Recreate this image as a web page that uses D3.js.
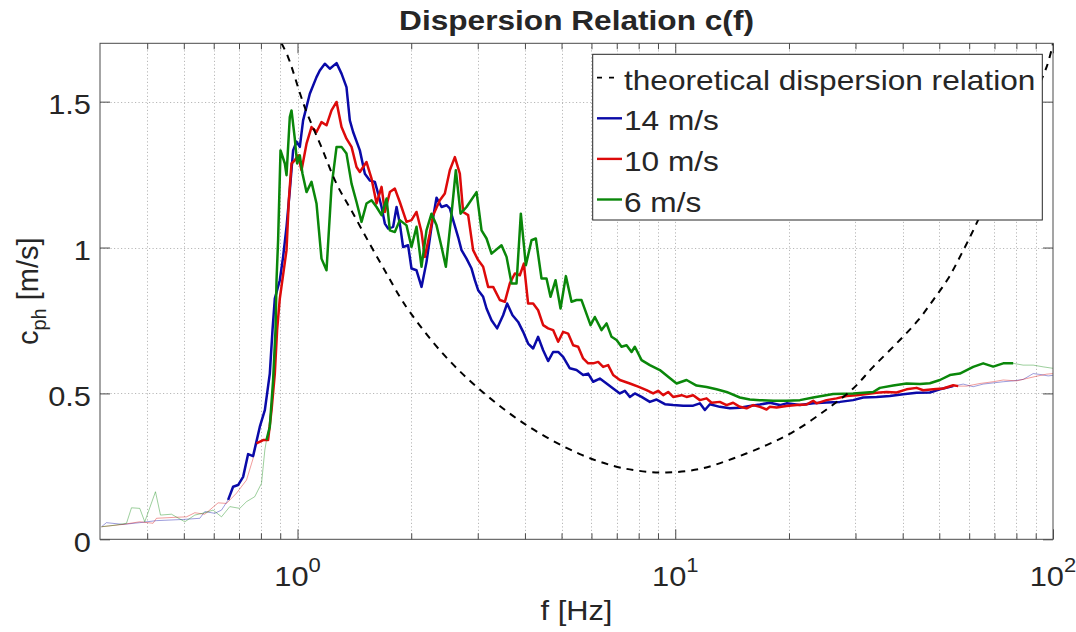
<!DOCTYPE html>
<html><head><meta charset="utf-8">
<script src="https://cdn.jsdelivr.net/npm/d3@7/dist/d3.min.js"></script>
<style>
body{margin:0;background:#fff;}
svg text{font-family:"Liberation Sans",Arial,Helvetica,sans-serif;fill:#262626;}
</style></head><body>
<svg id="chart" width="1076" height="632"></svg>
<script>
// ---------------- data ----------------
const titleText = "Dispersion Relation c(f)";
const xDomain = [0.3, 100];
const yDomain = [0, 1.7];
const xMajorTicks = [1, 10, 100];
const xMajorExp = ["0", "1", "2"];
const xMinorTicks = [0.4,0.5,0.6,0.7,0.8,0.9,2,3,4,5,6,7,8,9,20,30,40,50,60,70,80,90];
const yTicks = [0, 0.5, 1, 1.5];
const yTickLabels = ["0", "0.5", "1", "1.5"];
const seriesNames = ["theoretical dispersion relation", "14 m/s", "10 m/s", "6 m/s"];

const fTheory = [0.907,0.944,1.045,1.157,1.268,1.390,1.554,1.720,1.866,1.983,2.381,2.978,4.04,5.59,6.85,7.98,9.48,11.62,14.23,17.45,20.52,25.15,29.58,33.42,39.32,43.97,48.17,52.79,57.28,62.13,72.35,84.26,96.2,100];
const cTheory = [1.70,1.653,1.481,1.344,1.219,1.126,1.012,0.911,0.831,0.779,0.648,0.523,0.391,0.292,0.252,0.235,0.229,0.241,0.277,0.323,0.368,0.445,0.517,0.591,0.683,0.751,0.820,0.894,0.979,1.071,1.258,1.453,1.619,1.70];

const f14 = [0.3028,0.3120,0.3453,0.3823,0.4233,0.4979,0.5512,0.5683,0.6040,0.6292,0.6551,0.6753,0.6961,0.7178,0.7400,0.7628,0.7948,0.8194,0.8446,0.8586,0.8708,0.8977,0.9159,0.9352,0.9541,0.9736,0.9940,1.0141,1.0347,1.0779,1.1227,1.1455,1.1812,1.2177,1.2686,1.3077,1.3478,1.3756,1.4035,1.4622,1.5076,1.5541,1.6024,1.6349,1.6692,1.7030,1.7378,1.7914,1.8289,1.8656,1.9034,1.9622,2.0033,2.0655,2.1294,2.1950,2.2632,2.3335,2.4061,2.4803,2.5305,2.5823,2.6620,2.7178,2.8017,2.8889,2.9474,3.0077,3.1004,3.1652,3.2630,3.3768,3.5019,3.5884,3.7085,3.8379,3.9563,4.0783,4.2052,4.3351,4.4697,4.6075,4.7497,4.8978,5.0488,5.2590,5.4790,5.7041,5.8804,6.0618,6.3154,6.5784,6.8489,7.1338,7.3556,7.5826,7.8163,8.1431,8.5647,8.9227,9.3890,9.8719,10.493,11.154,11.619,11.979,12.350,13.125,13.949,14.825,15.755,16.749,17.803,18.918,19.708,21.379,23.181,25.154,27.280,29.580,31.446,34.119,37.003,40.127,43.543,47.218,50.187,54.425,57.842,61.475,65.345,69.456,73.824,78.457,83.392,88.630,92.323,97.118,100];
const c14 = [0.043,0.057,0.051,0.057,0.064,0.068,0.072,0.095,0.089,0.100,0.135,0.180,0.186,0.214,0.292,0.285,0.386,0.443,0.568,0.717,0.825,0.888,0.968,1.071,1.196,1.333,1.363,1.345,1.436,1.527,1.584,1.607,1.630,1.613,1.632,1.596,1.550,1.436,1.396,1.333,1.253,1.230,1.225,1.185,1.139,1.082,1.065,1.071,1.139,1.082,1.002,1.008,0.928,0.922,0.865,0.950,1.071,1.171,1.139,1.145,1.134,1.094,1.036,0.991,0.962,0.928,0.888,0.854,0.831,0.791,0.751,0.723,0.768,0.808,0.768,0.745,0.711,0.671,0.654,0.694,0.648,0.611,0.642,0.642,0.625,0.586,0.580,0.563,0.568,0.540,0.551,0.534,0.517,0.500,0.509,0.488,0.500,0.488,0.471,0.479,0.463,0.460,0.458,0.458,0.466,0.443,0.463,0.454,0.449,0.451,0.457,0.462,0.468,0.460,0.466,0.460,0.466,0.469,0.471,0.477,0.486,0.488,0.491,0.497,0.502,0.503,0.514,0.525,0.532,0.523,0.532,0.536,0.540,0.543,0.548,0.568,0.565,0.560,0.562];
const valid14 = [0.655, 57.84];

const f10 = [0.3028,0.3453,0.3823,0.4146,0.4233,0.4684,0.5084,0.5347,0.5683,0.6163,0.6486,0.6893,0.7328,0.7628,0.7786,0.8108,0.8358,0.8536,0.8708,0.8830,0.8977,0.9352,0.9484,0.9641,0.9836,1.0037,1.0247,1.0564,1.0890,1.1227,1.1574,1.1933,1.2303,1.2686,1.3077,1.3478,1.3900,1.4329,1.4622,1.5228,1.5703,1.6190,1.6692,1.7030,1.7559,1.8100,1.8656,1.9433,2.0033,2.0655,2.1294,2.1727,2.2398,2.2856,2.3813,2.4547,2.5305,2.6092,2.6899,2.7443,2.8295,2.9170,3.0077,3.1004,3.1960,3.2955,3.4324,3.5391,3.6484,3.7610,3.8779,3.9737,4.0783,4.2052,4.3351,4.4697,4.6075,4.7497,4.8978,5.0488,5.2048,5.3665,5.5331,5.7041,5.8804,6.0618,6.2503,6.4431,6.6418,6.8489,7.1338,7.5826,7.9776,8.3946,8.7392,9.0093,9.2897,9.5766,9.8719,10.392,10.713,11.154,11.619,12.104,12.479,13.125,13.670,14.232,14.825,15.443,16.079,16.749,17.446,17.803,18.544,19.708,20.955,22.266,23.181,23.662,25.154,26.730,28.415,30.200,32.107,34.119,36.262,38.541,40.964,43.543,45.331,48.173,51.203,54.425,56.105,59.055,64.048,69.456,73.824,80.101,85.139,90.483,96.161,100];
const c10 = [0.043,0.051,0.060,0.055,0.072,0.075,0.077,0.091,0.086,0.125,0.123,0.158,0.203,0.277,0.329,0.340,0.340,0.443,0.568,0.717,0.825,0.991,1.162,1.288,1.299,1.316,1.265,1.356,1.413,1.396,1.430,1.419,1.470,1.499,1.413,1.373,1.345,1.276,1.259,1.293,1.236,1.151,1.208,1.122,1.190,1.202,1.156,1.088,1.094,1.122,1.053,0.968,1.048,1.111,1.162,1.185,1.265,1.310,1.253,1.122,1.111,0.991,0.957,0.934,0.865,0.865,0.820,0.814,0.877,0.911,0.905,0.945,0.808,0.808,0.785,0.734,0.723,0.717,0.677,0.711,0.705,0.665,0.660,0.620,0.603,0.603,0.608,0.591,0.597,0.563,0.546,0.534,0.523,0.511,0.500,0.509,0.494,0.505,0.488,0.494,0.488,0.494,0.477,0.483,0.468,0.471,0.460,0.468,0.454,0.449,0.460,0.454,0.445,0.454,0.452,0.457,0.460,0.462,0.475,0.466,0.477,0.483,0.491,0.494,0.498,0.502,0.505,0.503,0.514,0.519,0.511,0.514,0.517,0.528,0.525,0.525,0.534,0.540,0.546,0.543,0.551,0.559,0.566,0.568];
const valid10 = [0.7786, 56.11];

const f6 = [0.3028,0.3317,0.3526,0.3635,0.3823,0.3941,0.4207,0.4338,0.4638,0.5031,0.5347,0.5683,0.5977,0.6292,0.6619,0.7033,0.7328,0.7706,0.8030,0.8194,0.8277,0.8446,0.8618,0.8745,0.8799,0.8884,0.9016,0.9256,0.9352,0.9541,0.9641,0.9836,0.9976,1.0141,1.0309,1.0564,1.0890,1.1227,1.1574,1.1933,1.2303,1.2686,1.3077,1.3478,1.3900,1.4329,1.4774,1.5228,1.5703,1.6190,1.6692,1.7207,1.7559,1.8100,1.8656,1.9433,2.0033,2.0655,2.1294,2.1950,2.2632,2.3335,2.4061,2.4700,2.5571,2.6249,2.7015,2.8017,2.9784,3.0704,3.1652,3.2630,3.4677,3.5760,3.6864,3.8003,3.9011,4.0222,4.1639,4.2747,4.4258,4.5621,4.6749,4.8205,4.9693,5.1334,5.3136,5.4790,5.6480,5.9680,6.1252,6.3811,6.5784,6.7814,6.9920,7.2080,7.4315,7.6614,7.8163,8.1431,8.5647,9.1033,9.5766,10.079,10.713,11.386,12.104,12.862,13.670,14.825,15.755,16.749,18.161,19.708,21.379,23.181,26.182,29.580,33.419,34.811,37.757,40.964,44.431,47.218,50.187,53.333,56.676,61.475,65.345,69.456,73.824,78.457,83.392,88.630,94.213,100];
const c6 = [0.043,0.049,0.055,0.108,0.106,0.060,0.163,0.083,0.086,0.060,0.083,0.091,0.100,0.077,0.112,0.106,0.129,0.146,0.192,0.306,0.340,0.386,0.546,0.717,0.888,1.025,1.333,1.288,1.248,1.447,1.470,1.373,1.288,1.316,1.253,1.190,1.225,1.151,0.962,0.922,1.208,1.345,1.345,1.322,1.219,1.156,1.088,1.151,1.162,1.139,1.111,1.168,1.059,1.053,1.094,1.076,1.002,1.071,0.934,1.059,1.116,1.076,1.002,0.934,1.116,1.265,1.116,1.139,1.190,1.059,1.031,0.979,1.008,0.968,0.877,0.877,1.116,0.939,1.025,1.031,0.894,0.894,0.831,0.888,0.791,0.902,0.814,0.820,0.820,0.734,0.762,0.717,0.740,0.694,0.683,0.660,0.665,0.642,0.660,0.614,0.597,0.580,0.557,0.534,0.546,0.527,0.522,0.514,0.505,0.486,0.479,0.477,0.475,0.475,0.477,0.486,0.498,0.500,0.505,0.519,0.527,0.534,0.532,0.535,0.546,0.563,0.568,0.591,0.603,0.592,0.603,0.603,0.597,0.597,0.591,0.586];
const valid6 = [0.8277, 78.46];

// ---------------- layout / style ----------------
const SX = 1.1;
const plot = {left: 100, right: 1053, top: 43.3, bottom: 539.3};
const colors = {blue: "#0a0aa8", red: "#dd0a0a", green: "#0a870a"};

const svg = d3.select("#chart");
svg.append("rect").attr("width", 1076).attr("height", 632).attr("fill", "#fff");

const x = d3.scaleLog().domain(xDomain).range([plot.left, plot.right]);
const y = d3.scaleLinear().domain(yDomain).range([plot.bottom, plot.top]);

svg.append("defs").append("clipPath").attr("id", "clip")
  .append("rect").attr("x", plot.left).attr("y", plot.top)
  .attr("width", plot.right - plot.left).attr("height", plot.bottom - plot.top);

// grid
const grid = svg.append("g").attr("stroke", "#b8b8b8").attr("stroke-width", 1)
  .attr("stroke-dasharray", "1.2,2.3");
const vGrid = xMinorTicks.concat(xMajorTicks.filter(v => v < xDomain[1]));
grid.selectAll("line.v").data(vGrid).join("line")
  .attr("x1", d => Math.round(x(d)) + 0.5).attr("x2", d => Math.round(x(d)) + 0.5)
  .attr("y1", plot.top).attr("y2", plot.bottom);
grid.selectAll("line.h").data(yTicks.filter(v => v > 0)).join("line")
  .attr("y1", d => Math.round(y(d)) + 0.5).attr("y2", d => Math.round(y(d)) + 0.5)
  .attr("x1", plot.left).attr("x2", plot.right);

// axes ticks
function styleAxis(g) {
  g.select(".domain").remove();
  g.selectAll(".tick line").attr("stroke", "#4a4a4a");
  g.selectAll(".tick text").remove();
}
svg.append("g").attr("transform", `translate(0,${plot.bottom})`)
  .call(d3.axisBottom(x).tickValues(xMajorTicks).tickSize(-10).tickFormat("")).call(styleAxis);
svg.append("g").attr("transform", `translate(0,${plot.bottom})`)
  .call(d3.axisBottom(x).tickValues(xMinorTicks).tickSize(-6).tickFormat("")).call(styleAxis);
svg.append("g").attr("transform", `translate(0,${plot.top})`)
  .call(d3.axisTop(x).tickValues(xMajorTicks).tickSize(-10).tickFormat("")).call(styleAxis);
svg.append("g").attr("transform", `translate(0,${plot.top})`)
  .call(d3.axisTop(x).tickValues(xMinorTicks).tickSize(-6).tickFormat("")).call(styleAxis);
svg.append("g").attr("transform", `translate(${plot.left},0)`)
  .call(d3.axisLeft(y).tickValues(yTicks).tickSize(-10).tickFormat("")).call(styleAxis);
svg.append("g").attr("transform", `translate(${plot.right},0)`)
  .call(d3.axisRight(y).tickValues(yTicks).tickSize(-10).tickFormat("")).call(styleAxis);

// data lines
const lineGen = d3.line().x(d => x(d[0])).y(d => y(d[1]));
const lines = svg.append("g").attr("clip-path", "url(#clip)");
const series = [
  {f: f14, c: c14, valid: valid14, color: colors.blue},
  {f: f10, c: c10, valid: valid10, color: colors.red},
  {f: f6,  c: c6,  valid: valid6,  color: colors.green}
];
series.forEach(s => {
  const pts = s.f.map((f, i) => [f, s.c[i]]);
  lines.append("path").datum(pts).attr("d", lineGen)
    .attr("fill", "none").attr("stroke", s.color).attr("stroke-opacity", 0.4)
    .attr("stroke-width", 1);
});
series.forEach(s => {
  const pts = s.f.map((f, i) => [f, s.c[i]]).filter(p => p[0] >= s.valid[0] && p[0] <= s.valid[1]);
  lines.append("path").datum(pts).attr("d", lineGen)
    .attr("fill", "none").attr("stroke", s.color).attr("stroke-width", 2.5)
    .attr("stroke-linejoin", "round");
});
const theoryPts = fTheory.map((f, i) => [f, cTheory[i]]);
lines.append("path").datum(theoryPts)
  .attr("d", d3.line().x(d => x(d[0])).y(d => y(d[1])).curve(d3.curveCatmullRom))
  .attr("fill", "none").attr("stroke", "#000").attr("stroke-width", 2)
  .attr("stroke-dasharray", "7,6");

// box
svg.append("rect").attr("x", plot.left).attr("y", plot.top)
  .attr("width", plot.right - plot.left).attr("height", plot.bottom - plot.top)
  .attr("fill", "none").attr("stroke", "#4a4a4a").attr("stroke-width", 1);

// text helper (horizontally stretched text like the reference)
function stext(parent, px, py, anchor, size, sx, weight) {
  return parent.append("g").attr("transform", `translate(${px},${py}) scale(${sx},1)`)
    .append("text").attr("text-anchor", anchor).attr("font-size", size)
    .attr("font-weight", weight || "normal");
}

// y tick labels
yTicks.forEach((v, i) => {
  stext(svg, 91, y(v) + 12.5, "end", 28, SX).text(yTickLabels[i]);
});
// x tick labels
xMajorTicks.forEach((v, i) => {
  const t = stext(svg, x(v), 586, "middle", 28, SX);
  t.append("tspan").text("10");
  t.append("tspan").attr("font-size", 20).attr("dy", -14).text(xMajorExp[i]);
});

// title
stext(svg, (plot.left + plot.right) / 2, 30, "middle", 28, 1.13, "bold").text(titleText);
// x label
stext(svg, (plot.left + plot.right) / 2, 620, "middle", 28, SX).text("f [Hz]");
// y label
const yl = svg.append("text").attr("transform", `translate(38,${(plot.top + plot.bottom) / 2}) rotate(-90)`)
  .attr("text-anchor", "middle").attr("font-size", 29);
yl.append("tspan").text("c");
yl.append("tspan").attr("font-size", 20).attr("dy", 8).text("ph");
yl.append("tspan").attr("dy", -8).text(" [m/s]");

// legend
const lg = svg.append("g");
lg.append("rect").attr("x", 592.7).attr("y", 54.3).attr("width", 449.6).attr("height", 165.7)
  .attr("fill", "#fff").attr("stroke", "#262626").attr("stroke-width", 1);
const legendRows = [
  {name: seriesNames[0], color: "#000", dash: "5,7"},
  {name: seriesNames[1], color: colors.blue, dash: null},
  {name: seriesNames[2], color: colors.red, dash: null},
  {name: seriesNames[3], color: colors.green, dash: null}
];
legendRows.forEach((r, i) => {
  const ly = 77.7 + i * 40.6;
  const ln = lg.append("line").attr("x1", 597).attr("x2", r.dash ? 617 : 622).attr("y1", ly).attr("y2", ly)
    .attr("stroke", r.color).attr("stroke-width", r.dash ? 1.8 : 2.4);
  if (r.dash) ln.attr("stroke-dasharray", r.dash);
  stext(lg, 624, ly + 12, "start", 28, 1.13).attr("fill", "#000").text(r.name);
});
</script>
</body></html>
